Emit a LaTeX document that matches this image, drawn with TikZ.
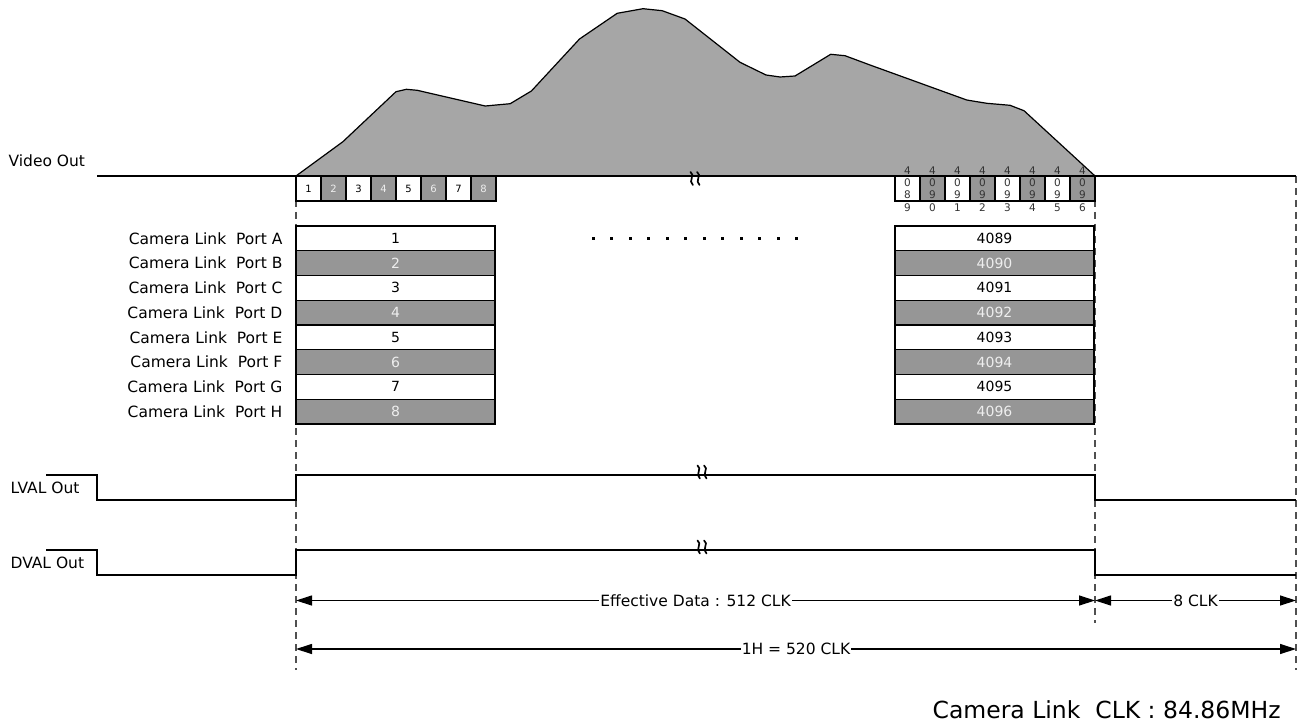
\documentclass[tikz,border=0pt]{standalone}
\usepackage{fontspec}
\setmainfont{DejaVu Sans}
\usetikzlibrary{arrows.meta}
\definecolor{boxgray}{HTML}{969696}
\definecolor{mtgray}{HTML}{A6A6A6}
\definecolor{dashgray}{HTML}{505050}
\definecolor{lighttxt}{HTML}{EEEEEE}
\definecolor{digtxt}{HTML}{333333}
\begin{document}
\begin{tikzpicture}[x=1pt,y=-1pt,line width=1.2pt,
  >={Triangle[length=16pt,width=10pt]},
  lbl/.style={font=\fontsize{15.5}{18}\selectfont,inner sep=0pt},
  portlbl/.style={lbl,anchor=east},
  pbox/.style={draw=black,minimum width=199pt,minimum height=24.75pt,inner sep=0pt,outer sep=0pt,anchor=north west,font=\fontsize{14}{17}\selectfont},
  pw/.style={pbox,fill=white,text=black},
  pg/.style={pbox,fill=boxgray,text=lighttxt},
  sbox/.style={draw=black,minimum width=25pt,minimum height=25pt,inner sep=0pt,outer sep=0pt,anchor=north west,font=\fontsize{10}{12}\selectfont},
  sw/.style={sbox,fill=white,text=black},
  sg/.style={sbox,fill=boxgray,text=lighttxt},
  stackdig/.style={align=center,inner sep=0pt,font=\fontsize{10.5}{12.3}\selectfont,text=digtxt},
  guide/.style={draw=dashgray,dash pattern=on 7pt off 5pt,line width=1.2pt},
  dim/.style={<->,line width=1.2pt},
  dimtext/.style={lbl,fill=white,inner xsep=1pt,inner ysep=2pt},
  brk/.pic={\foreach \dx in {-3.3,3.3}{\draw[line width=1.7pt,line cap=round] (\dx-1.2,-6.5) .. controls (\dx+4,-3.5) and (\dx-4,2.5) .. (\dx+1.2,6.5);}}
]
\useasboundingbox (0,0) rectangle (1303,727);

% guide lines
\draw[guide] (296,176) -- (296,670);
\draw[guide] (1095,176) -- (1095,623);
\draw[guide] (1296,176) -- (1296,670);

% video waveform
\filldraw[fill=mtgray,draw=black,line join=round]
 (296,176) -- (342.9,141.7) -- (396,91.7) -- (406.4,89.3) -- (417.2,90.3) -- (485.2,106) -- (510.2,103.7) -- (531.4,91) -- (579.5,39) -- (617.2,13.3) -- (643,8.7) -- (662.2,10.7) -- (685,19) -- (740,62.3) -- (766,75) -- (780,77) -- (795,76) -- (830.7,54.3) -- (845,55.7) -- (870,65) -- (966.7,100) -- (986.7,103.3) -- (1010,105.3) -- (1024,110.7) -- (1095,176) -- cycle;
\draw (97,176) -- (1296,176);
\node[lbl,anchor=west] (vout) at (8,161) {Video Out};
\pic at (695,178.5) {brk};

% small pixel boxes
\foreach \n/\s [count=\i from 0] in {1/sw,2/sg,3/sw,4/sg,5/sw,6/sg,7/sw,8/sg}
  \node[\s] (vs\n) at ({296+25*\i},176) {\n};
\foreach \a/\b/\s [count=\i from 0] in {8/9/sw,9/0/sg,9/1/sw,9/2/sg,9/3/sw,9/4/sg,9/5/sw,9/6/sg}{
  \node[\s] (vr\i) at ({895+25*\i},176) {};
  \node[stackdig] (vd\i) at ([yshift=-0.5pt]vr\i.center) {4\\0\\\a\\\b};
}

% dots
\foreach \k in {0,...,11}
  \fill ({593.3+18.5*\k-1.5},236.8) rectangle ++(3,3);

% camera link ports
\foreach \L/\s/\n/\m [count=\i from 0] in {A/pw/1/4089,B/pg/2/4090,C/pw/3/4091,D/pg/4/4092,E/pw/5/4093,F/pg/6/4094,G/pw/7/4095,H/pg/8/4096}{
  \node[portlbl] (lbl\L) at (283,{238.4+24.75*\i}) {Camera Link~ Port \L};
  \node[\s] (pl\L) at (296,{226+24.75*\i}) {\n};
  \node[\s] (pr\L) at (895,{226+24.75*\i}) {\m};
}

% LVAL
\draw (46,475) -- (97,475) -- (97,500) -- (296,500) -- (296,475) -- (1095,475) -- (1095,500) -- (1296,500);
\node[lbl,anchor=west] (lval) at (10,488) {LVAL Out};
\pic at (702,472) {brk};

% DVAL
\draw (46,550) -- (97,550) -- (97,575) -- (296,575) -- (296,550) -- (1095,550) -- (1095,575) -- (1296,575);
\node[lbl,anchor=west] (dval) at (10,563) {DVAL Out};
\pic at (702,547) {brk};

% dimensions
\coordinate (ea) at (296,600.5);
\coordinate (eb) at (1095,600.5);
\coordinate (ec) at (1296,600.5);
\coordinate (ha) at (296,649);
\coordinate (hb) at (1296,649);
\draw[dim] (ea) -- (eb) node[midway,dimtext] (eff) {Effective Data : 512 CLK};
\draw[dim] (eb) -- (ec) node[midway,dimtext] (eight) {8 CLK};
\draw[dim] (ha) -- (hb) node[midway,dimtext] (oneh) {1H = 520 CLK};

\node[anchor=west,inner sep=0pt,font=\fontsize{23.5}{28}\selectfont] (clk) at (932,710) {Camera Link~ CLK : 84.86MHz};
\end{tikzpicture}
\end{document}
